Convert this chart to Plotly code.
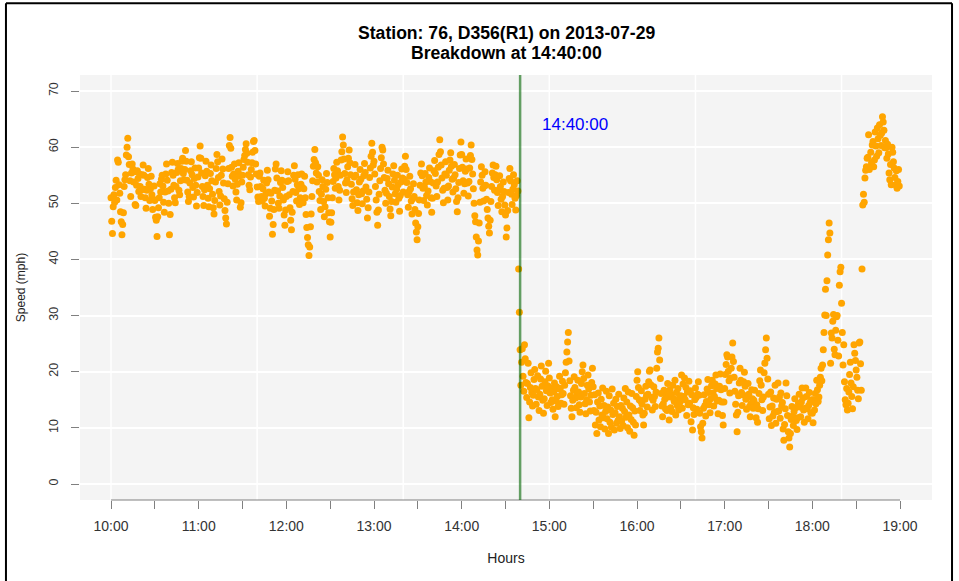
import pandas as pd
import plotly.graph_objects as go

DAY = "2013-07-29"
BREAKDOWN = f"{DAY} 14:40:00"

# 30-second speeds (mph), one list per clock hour, each row = 10 minutes
speed_10 = [
    51.0, 46.8, 44.6, 49.4, 51.5, 50.2, 52.8, 54.1, 50.6, 57.7, 57.3, 53.3, 51.8, 48.5, 46.7, 44.4, 46.2, 48.3, 53.0, 54.2,
    55.1, 58.6, 60.0, 61.6, 58.3, 56.9, 54.0, 51.2, 55.4, 57.0, 56.1, 53.8, 55.6, 49.8, 49.6, 53.2, 55.8, 54.4, 52.1, 55.2,
    53.0, 51.2, 52.4, 55.1, 56.8, 55.0, 52.5, 51.0, 49.1, 52.3, 54.6, 56.2, 53.4, 50.5, 52.6, 54.8, 51.5, 48.9, 50.7, 53.1,
    50.5, 47.5, 47.0, 44.1, 47.6, 49.2, 51.0, 53.5, 52.0, 54.3, 55.0, 53.1, 50.2, 48.4, 52.0, 55.2, 57.0, 54.1, 52.2, 50.0,
    44.4, 48.0, 52.5, 55.5, 57.3, 55.0, 53.2, 51.0, 50.1, 53.0, 55.5, 57.1, 56.0, 52.3, 51.5, 54.0, 56.2, 57.5, 58.0, 55.3,
    54.2, 56.0, 59.4, 57.5, 54.1, 52.0, 50.3, 51.2, 53.6, 55.8, 57.4, 55.1, 52.8, 51.1, 54.4, 56.3, 53.2, 49.5, 51.9, 54.7,
]
speed_11 = [
    56.3, 58.1, 60.2, 58.0, 55.4, 53.0, 51.2, 49.6, 52.4, 54.9, 57.5, 55.7, 53.2, 50.9, 49.4, 52.6, 55.3, 56.8, 54.0, 51.6,
    49.2, 48.1, 50.5, 53.8, 56.2, 58.7, 57.4, 54.6, 52.1, 49.7, 51.3, 55.0, 57.9, 56.1, 53.6, 50.8, 48.7, 47.4, 46.3, 50.2,
    53.5, 56.2, 60.3, 61.7, 59.8, 56.4, 54.8, 53.1, 55.2, 57.0, 54.3, 52.0, 50.6, 53.4, 55.7, 57.2, 54.9, 49.3, 50.1, 53.8,
    55.0, 56.4, 57.8, 58.5, 59.6, 60.6, 58.9, 57.3, 55.1, 53.2, 52.4, 54.7, 56.0, 57.2, 59.1, 61.0, 61.2, 59.4, 57.0, 55.2,
    52.9, 51.1, 50.3, 54.8, 55.4, 53.0, 51.2, 50.4, 52.6, 54.1, 50.9, 49.5, 51.7, 53.6, 55.9, 54.2, 52.0, 47.7, 49.1, 51.8,
    50.4, 44.5, 46.2, 48.9, 52.3, 56.1, 57.0, 54.5, 52.2, 50.0, 49.1, 51.3, 53.7, 55.8, 54.1, 52.8, 50.6, 47.9, 46.1, 48.8,
]
speed_12 = [
    51.2, 53.9, 55.6, 54.0, 51.5, 49.2, 47.0, 45.3, 48.4, 52.1, 55.0, 56.7, 54.3, 51.9, 50.4, 53.3, 55.1, 52.6, 49.8, 51.0,
    53.4, 55.2, 52.8, 50.1, 52.6, 54.8, 51.0, 48.0, 45.7, 43.9, 42.6, 40.7, 42.2, 45.8, 48.1, 51.2, 54.0, 56.6, 57.8, 59.6,
    57.2, 55.4, 53.8, 56.5, 55.0, 52.1, 50.5, 48.9, 51.6, 54.2, 53.0, 50.3, 47.6, 49.4, 52.5, 55.3, 53.7, 51.0, 48.3, 46.7,
    44.0, 46.6, 48.3, 51.0, 53.9, 56.2, 55.1, 52.7, 54.5, 57.3, 55.8, 53.0, 50.6, 52.3, 55.0, 57.7, 59.2, 61.8, 60.4, 57.9,
    55.3, 53.6, 51.9, 54.2, 56.5, 58.0, 59.5, 57.2, 55.1, 53.4, 50.8, 49.6, 52.0, 54.7, 56.9, 55.0, 52.4, 50.1, 48.7, 51.5,
    53.8, 56.0, 54.3, 51.7, 49.9, 52.2, 54.9, 57.1, 55.5, 52.9, 50.7, 47.4, 49.2, 52.0, 54.6, 56.3, 58.4, 60.7, 59.1, 56.8,
]
speed_13 = [
    57.5, 55.2, 53.0, 50.6, 48.4, 46.1, 48.8, 51.6, 54.0, 56.2, 58.1, 60.0, 59.5, 57.0, 54.6, 52.3, 50.0, 51.8, 54.4, 55.9,
    53.5, 51.2, 49.0, 47.8, 50.3, 52.9, 55.2, 56.7, 54.1, 51.7, 50.2, 52.5, 55.0, 53.3, 50.9, 48.6, 51.4, 53.8, 56.1, 54.5,
    52.0, 54.3, 56.6, 58.4, 56.0, 53.7, 51.5, 49.3, 52.1, 54.8, 52.6, 50.4, 48.1, 50.8, 53.5, 51.2, 48.9, 46.5, 44.9, 43.5,
    45.8, 48.2, 50.6, 53.2, 55.4, 57.0, 54.9, 52.7, 50.5, 52.9, 55.3, 53.8, 51.4, 49.7, 52.2, 54.6, 56.3, 53.9, 51.0, 48.4,
    50.9, 53.6, 55.8, 57.6, 55.3, 53.1, 51.2, 53.8, 56.4, 58.7, 61.3, 59.2, 56.8, 54.5, 52.3, 50.1, 52.7, 55.2, 57.4, 55.0,
    52.8, 50.6, 53.1, 55.9, 57.7, 59.0, 56.6, 54.3, 52.0, 54.5, 56.9, 55.1, 52.6, 50.3, 48.5, 51.0, 53.7, 56.2, 58.6, 60.9,
]
speed_14 = [
    58.7, 56.4, 54.0, 51.8, 53.5, 55.7, 57.9, 56.1, 53.6, 51.3, 53.9, 56.3, 58.5, 60.4, 57.8, 55.2, 52.6, 50.0, 47.8, 46.7,
    44.0, 41.7, 40.8, 43.3, 46.5, 50.2, 53.8, 56.5, 55.0, 52.7, 50.4, 53.1, 55.6, 53.2, 50.7, 48.9, 47.4, 45.9, 44.7, 47.0,
    50.3, 53.0, 55.4, 56.8, 54.6, 52.3, 55.1, 56.6, 54.2, 51.9, 49.6, 52.4, 54.9, 53.0, 50.7, 48.5, 51.2, 53.8, 52.1, 49.7,
    47.9, 44.0, 45.6, 48.7, 51.9, 54.4, 56.2, 54.0, 51.6, 49.8, 52.5, 55.1, 53.3, 50.9, 48.8, 51.4, 54.0, 52.2, 38.3, 30.6,
    23.9, 17.6, 21.7, 24.1, 19.2, 16.5, 24.8, 22.3, 18.1, 15.4, 17.9, 21.5, 11.8, 14.6, 17.2, 19.8, 16.3, 13.9, 15.8, 18.6,
    20.4, 17.0, 14.2, 16.8, 19.3, 15.5, 13.1, 16.0, 18.7, 21.0, 17.4, 14.9, 12.6, 15.2, 18.2, 20.1, 16.6, 14.0, 17.5, 21.5,
]
speed_15 = [
    18.9, 16.2, 14.5, 17.1, 15.0, 13.3, 16.4, 18.0, 12.0, 14.8, 17.3, 15.6, 13.8, 16.9, 19.2, 17.0, 14.4, 15.9, 18.3, 16.1,
    14.2, 17.6, 19.8, 21.7, 23.5, 25.3, 27.0, 21.9, 18.4, 15.7, 13.5, 12.0, 14.9, 16.7, 19.1, 17.2, 15.3, 13.6, 16.0, 18.5,
    16.4, 14.1, 12.8, 15.5, 17.9, 20.0, 21.2, 18.8, 16.1, 14.3, 12.5, 15.0, 17.6, 19.4, 16.9, 14.6, 13.0, 15.8, 18.1, 20.6,
    17.3, 13.1, 15.9, 10.5, 12.8, 9.0, 14.6, 16.2, 11.4, 13.9, 10.2, 15.1, 12.3, 17.1, 11.8, 14.0, 9.8, 12.9, 16.5, 11.6,
    13.7, 9.0, 15.7, 11.0, 13.2, 10.1, 16.9, 12.4, 14.4, 9.6, 12.7, 15.1, 10.8, 13.8, 11.3, 16.0, 12.0, 9.9, 14.0, 11.2,
    13.5, 10.4, 15.3, 12.9, 17.0, 11.9, 14.6, 10.0, 16.4, 12.3, 9.4, 13.9, 11.5, 16.1, 13.6, 11.0, 8.7, 13.0, 10.5, 15.6,
]
speed_16 = [
    18.5, 20.0, 17.2, 15.0, 13.1, 14.8, 16.6, 14.2, 12.3, 10.5, 12.6, 15.1, 17.4, 15.8, 13.7, 16.0, 18.2, 20.1, 20.3, 17.7,
    15.4, 13.2, 14.9, 17.3, 15.6, 13.8, 16.4, 20.6, 23.5, 24.2, 26.0, 22.1, 18.8, 16.1, 13.9, 12.0, 14.3, 16.7, 15.1, 13.4,
    15.8, 13.1, 17.9, 15.5, 11.4, 16.8, 13.6, 15.9, 12.9, 17.6, 15.2, 14.7, 18.5, 12.3, 16.3, 14.0, 17.0, 13.2, 15.3, 14.6,
    15.7, 19.4, 13.5, 17.8, 15.6, 18.9, 15.0, 17.2, 12.2, 16.4, 14.1, 18.3, 14.4, 16.6, 11.1, 15.9, 9.6, 13.6, 12.4, 15.0,
    17.1, 15.4, 13.3, 16.0, 18.2, 15.8, 12.6, 10.2, 9.3, 8.2, 10.8, 13.5, 15.9, 14.0, 12.1, 14.7, 16.9, 18.6, 16.3, 14.1,
    12.7, 15.2, 17.5, 18.5, 16.2, 13.9, 15.6, 17.8, 19.4, 17.0, 14.8, 12.5, 14.9, 17.4, 19.6, 16.8, 14.6, 12.2, 10.5, 14.6,
]
speed_17 = [
    17.0, 19.5, 21.3, 23.0, 22.6, 20.1, 18.4, 16.2, 18.9, 20.6, 22.6, 25.1, 21.8, 19.0, 16.5, 14.2, 12.3, 9.3, 12.8, 15.7,
    18.0, 20.6, 18.5, 16.3, 14.0, 15.9, 18.2, 19.9, 17.4, 15.1, 13.3, 15.6, 17.9, 16.0, 13.8, 12.0, 14.3, 16.8, 15.2, 13.5,
    14.9, 16.7, 13.6, 11.8, 14.1, 11.0, 13.4, 16.1, 18.4, 20.3, 17.6, 15.0, 13.1, 15.5, 19.8, 21.5, 23.9, 26.0, 22.4, 18.7,
    16.0, 11.6, 13.7, 16.4, 10.4, 13.9, 12.1, 15.3, 12.8, 17.6, 10.8, 15.1, 12.9, 18.0, 13.0, 15.5, 11.7, 16.2, 13.9, 14.5,
    9.8, 7.8, 10.6, 13.4, 18.0, 15.7, 12.2, 9.3, 8.2, 6.6, 9.0, 11.5, 13.8, 12.1, 10.4, 12.9, 15.2, 13.6, 11.3, 9.7,
    11.8, 14.4, 16.0, 13.7, 12.0, 14.6, 17.1, 15.3, 13.2, 11.0, 13.5, 17.1, 15.6, 13.4, 11.6, 14.0, 16.3, 14.5, 12.7, 15.0,
]
speed_18 = [
    12.6, 10.9, 15.0, 13.2, 16.1, 14.3, 18.5, 16.8, 14.7, 15.5, 17.6, 19.0, 20.6, 18.4, 21.2, 23.9, 27.0, 30.1, 34.7, 30.0,
    36.2, 40.8, 43.5, 46.5, 44.7, 21.5, 26.9, 26.0, 29.0, 30.2, 24.0, 23.0, 27.4, 29.8, 30.0, 25.6, 22.8, 35.4, 37.8, 38.6,
    32.2, 27.0, 21.2, 24.8, 18.2, 15.0, 14.1, 17.0, 13.2, 14.4, 16.4, 19.5, 21.7, 18.0, 15.6, 13.4, 17.3, 24.8, 23.3, 22.0,
    20.3, 19.0, 16.7, 15.2, 25.1, 25.3, 21.4, 16.7, 38.3, 49.7, 51.6, 50.2, 54.5, 55.9, 56.5, 58.0, 58.2, 62.2, 56.0, 56.5,
    59.1, 57.2, 60.4, 61.0, 56.5, 57.7, 62.7, 60.2, 58.4, 63.4, 61.5, 59.0, 64.0, 62.1, 60.3, 62.5, 65.4, 64.5, 63.0, 59.9,
    61.2, 59.9, 58.0, 60.5, 58.8, 55.4, 54.2, 56.9, 53.3, 60.0, 59.1, 57.4, 56.3, 54.6, 53.3, 55.8, 52.7, 53.9, 56.0, 53.1,
]

hour_starts = ["10:00", "11:00", "12:00", "13:00", "14:00", "15:00", "16:00", "17:00", "18:00"]
hourly_speeds = [speed_10, speed_11, speed_12, speed_13, speed_14, speed_15, speed_16, speed_17, speed_18]

tick_times = ["10:00", "10:30", "11:00", "11:30", "12:00", "12:30", "13:00", "13:30", "14:00",
              "14:30", "15:00", "15:30", "16:00", "16:30", "17:00", "17:30", "18:00", "18:30", "19:00"]
tick_labels = ["10:00", "", "11:00", "", "12:00", "", "13:00", "", "14:00",
               "", "15:00", "", "16:00", "", "17:00", "", "18:00", "", "19:00"]
grid_times = ["10:00", "11:40", "13:20", "15:00", "16:40", "18:20"]
y_ticks = [0, 10, 20, 30, 40, 50, 60, 70]

times, speeds = [], []
for start, vals in zip(hour_starts, hourly_speeds):
    times.extend(pd.date_range(f"{DAY} {start}", periods=len(vals), freq="30s"))
    speeds.extend(vals)

FONT = "Liberation Sans, Arial, sans-serif"

fig = go.Figure()
fig.add_trace(go.Scatter(
    x=times, y=speeds, mode="markers",
    marker=dict(color="#FFA500", size=7, line=dict(width=0)),
    hoverinfo="skip", showlegend=False,
))

shapes = []
for g in grid_times:
    shapes.append(dict(type="line", xref="x", yref="paper", x0=f"{DAY} {g}", x1=f"{DAY} {g}",
                       y0=0, y1=1, line=dict(color="white", width=1.5), layer="below"))
# x axis baseline spanning first to last tick (R style)
shapes.append(dict(type="line", xref="x", yref="paper", x0=f"{DAY} {tick_times[0]}",
                   x1=f"{DAY} {tick_times[-1]}", y0=0, y1=0, line=dict(color="#808080", width=1)))
# breakdown marker
shapes.append(dict(type="line", xref="x", yref="paper", x0=BREAKDOWN, x1=BREAKDOWN, y0=0, y1=1,
                   line=dict(color="rgba(0,100,0,0.6)", width=2.5), layer="above"))
# outer frame
for x0, y0, x1, y1 in [(-0.0869, 1.169, -0.0869, -0.2), (-0.0869, 1.169, 1.0235, 1.169),
                       (1.0235, 1.169, 1.0235, -0.2)]:
    shapes.append(dict(type="line", xref="paper", yref="paper", x0=x0, y0=y0, x1=x1, y1=y1,
                       line=dict(color="black", width=2)))

title_lines = ["Station: 76, D356(R1) on 2013-07-29", "Breakdown at 14:40:00"]

fig.update_layout(
    width=959, height=581,
    margin=dict(l=80, r=27, t=75, b=81, autoexpand=False),
    paper_bgcolor="white", plot_bgcolor="#f4f4f4",
    font=dict(family=FONT, color="#222"),
    shapes=shapes,
    annotations=[
        dict(x=0.5, y=1.0988, xref="paper", yref="paper", text=f"<b>{title_lines[0]}</b>",
             showarrow=False, yanchor="middle", font=dict(size=17.6, color="black")),
        dict(x=0.5, y=1.0518, xref="paper", yref="paper", text=f"<b>{title_lines[1]}</b>",
             showarrow=False, yanchor="middle", font=dict(size=17.6, color="black")),
        dict(x=f"{DAY} 15:17:30", y=64.1, text="14:40:00", showarrow=False,
             font=dict(size=17, color="blue")),
    ],
)
fig.update_xaxes(
    type="date", range=[f"{DAY} 09:38:47", f"{DAY} 19:21:54"], automargin=False,
    tickmode="array", tickvals=[f"{DAY} {t}" for t in tick_times], ticktext=tick_labels,
    ticks="outside", ticklen=8, tickcolor="#808080", tickwidth=1, ticklabelstandoff=5,
    showgrid=False, zeroline=False, showline=False,
    tickfont=dict(size=14, color="#333"),
    title=dict(text="Hours", font=dict(size=14, color="#222"), standoff=20),
)
fig.update_yaxes(
    range=[-2.85, 72.85], tickmode="array", tickvals=y_ticks, automargin=False,
    ticks="outside", ticklen=8, tickcolor="#808080", tickwidth=1, tickangle=-90,
    ticklabelstandoff=8,
    showgrid=True, gridcolor="white", gridwidth=1.5, zeroline=False, showline=False,
    tickfont=dict(size=12.5, color="#333"),
    title=dict(text="Speed (mph)", font=dict(size=12, color="#222"), standoff=18),
)

# the page's default 8px body margin would shift the figure; drop it
fig.write_html("out.html", config={"displayModeBar": False},
               post_script="document.body.style.margin = '0';")
